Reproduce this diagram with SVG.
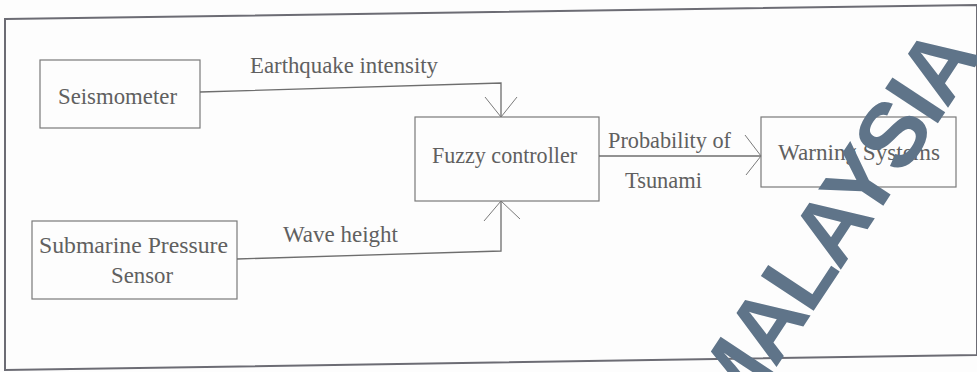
<svg xmlns="http://www.w3.org/2000/svg" width="977" height="372" viewBox="0 0 977 372">
<style>
.bg{fill:#fdfdfd}
.frame{fill:none;stroke:#6c6c74;stroke-width:2}
.box{fill:none;stroke:#7a7a7a;stroke-width:1.2}
.lbl{font-family:"Liberation Serif","Times New Roman",serif;font-size:24px;fill:#606060}
.wire{fill:none;stroke:#6e6e6e;stroke-width:1.3}
.head{fill:none;stroke:#7a7a7a;stroke-width:1}
.wm{font-family:"Liberation Sans",Arial,sans-serif;font-weight:bold;font-size:92px;letter-spacing:-3px;fill:#5f7489}
</style>
<rect class="bg" x="0" y="0" width="977" height="372"/>
<polygon class="frame" points="5,19 977,5 977,355 5,370"/>

<g id="seismometer">
<rect class="box" x="40" y="60" width="160" height="68"/>
<text class="lbl" x="58" y="104" textLength="119" lengthAdjust="spacingAndGlyphs">Seismometer</text>
</g>

<g id="submarine-sensor">
<rect class="box" x="32" y="221" width="205" height="78"/>
<text class="lbl" x="39" y="253" textLength="189" lengthAdjust="spacingAndGlyphs">Submarine Pressure</text>
<text class="lbl" x="111" y="283" textLength="62" lengthAdjust="spacingAndGlyphs">Sensor</text>
</g>

<g id="fuzzy-controller">
<rect class="box" x="415" y="117" width="184" height="84"/>
<text class="lbl" x="432" y="163" textLength="145" lengthAdjust="spacingAndGlyphs">Fuzzy controller</text>
</g>

<g id="warning-systems">
<rect class="box" x="761" y="117" width="195" height="70"/>
<text class="lbl" x="778" y="160" textLength="162" lengthAdjust="spacingAndGlyphs">Warning Systems</text>
</g>

<g id="connectors">
<polyline class="wire" points="200,92 501,83 501,117"/>
<path class="head" d="M485,97 L501,117 L517,97"/>
<text class="lbl" x="250" y="73" textLength="188" lengthAdjust="spacingAndGlyphs">Earthquake intensity</text>

<polyline class="wire" points="237,259 501,251 501,201"/>
<path class="head" d="M484,221 L501,201 L520,219"/>
<text class="lbl" x="283" y="242" textLength="115" lengthAdjust="spacingAndGlyphs">Wave height</text>

<line class="wire" x1="599" y1="156" x2="761" y2="156"/>
<path class="head" d="M745,135 L761,156 L746,175"/>
<text class="lbl" x="608" y="148" textLength="123" lengthAdjust="spacingAndGlyphs">Probability of</text>
<text class="lbl" x="625" y="188" textLength="77" lengthAdjust="spacingAndGlyphs">Tsunami</text>
</g>

<text class="wm" x="734.6" y="430.4" transform="rotate(-56.5 734.6 430.4)">MALAYSIA</text>
</svg>
